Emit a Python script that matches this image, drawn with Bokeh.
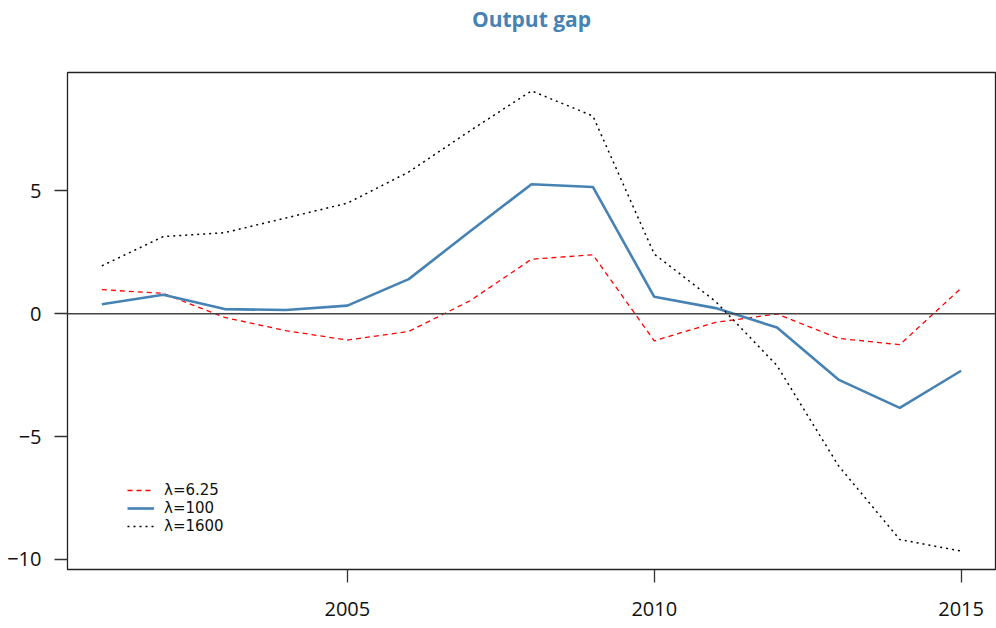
from bokeh.plotting import figure
from bokeh.models import FixedTicker, Span, Legend, LegendItem, Range1d, Title
from bokeh.embed import file_html
from bokeh.resources import INLINE

years = list(range(2001, 2016))
gap_625 = [0.98, 0.83, -0.15, -0.69, -1.07, -0.72, 0.53, 2.22, 2.40, -1.10, -0.35, -0.01, -1.00, -1.26, 1.04]
gap_100 = [0.39, 0.77, 0.19, 0.15, 0.33, 1.41, 3.36, 5.27, 5.16, 0.69, 0.23, -0.56, -2.68, -3.83, -2.32]
gap_1600 = [1.95, 3.14, 3.30, 3.90, 4.50, 5.77, 7.45, 9.07, 8.05, 2.43, 0.50, -2.11, -6.18, -9.19, -9.66]
x_ticks = [2005, 2010, 2015]
y_ticks = [-10, -5, 0, 5]
labels = ["\u03bb=6.25", "\u03bb=100", "\u03bb=1600"]
title_text = "Output gap"

# R-style 4% padding
xmin, xmax = min(years), max(years)
xpad = 0.04 * (xmax - xmin)
allv = gap_625 + gap_100 + gap_1600
ymin, ymax = min(allv), max(allv)
ypad = 0.04 * (ymax - ymin)

FONT = "Open Sans"
W, H = 996, 628
BL, BR, BT, BB = 67, 1, 72, 59

p = figure(width=W, height=H, output_backend="svg", toolbar_location=None,
           x_range=Range1d(xmin - xpad, xmax + xpad),
           y_range=Range1d(ymin - ypad, ymax + ypad),
           min_border_left=BL, min_border_right=BR, min_border_top=BT, min_border_bottom=BB)

# spacer title nearest the frame, then the real title above it
p.title.text = ""
p.add_layout(Title(text=" ", text_font_size="24px"), "above")
p.add_layout(Title(text=title_text, align="center", text_color="#4682B4", text_font=FONT,
                   text_font_style="bold", text_font_size="21px", standoff=2), "above")

p.xgrid.visible = False
p.ygrid.visible = False
p.outline_line_color = "#222222"
p.outline_line_width = 1.3
p.background_fill_color = "white"
p.border_fill_color = "white"

for ax in (p.xaxis[0], p.yaxis[0]):
    ax.axis_line_color = None
    ax.major_tick_in = 0
    ax.major_tick_out = 13
    ax.major_tick_line_color = "#333333"
    ax.major_tick_line_width = 1.3
    ax.minor_tick_line_color = None
    ax.major_label_text_font = FONT
    ax.major_label_text_font_size = "20px"
    ax.major_label_text_color = "#111111"
    ax.major_label_standoff = 13
p.xaxis.major_label_standoff = 19

p.xaxis.ticker = FixedTicker(ticks=x_ticks)
p.yaxis.ticker = FixedTicker(ticks=y_ticks)

zero = Span(location=0, dimension="width", line_color="#444444", line_width=1.5)
p.add_layout(zero)

r1 = p.line(years, gap_625, line_color="red", line_width=1.3, line_dash="5 4")
r2 = p.line(years, gap_100, line_color="#4682B4", line_width=2.6)
r3 = p.line(years, gap_1600, line_color="black", line_width=1.5, line_dash="2 4")

legend = Legend(items=[LegendItem(label=labels[0], renderers=[r1]),
                       LegendItem(label=labels[1], renderers=[r2]),
                       LegendItem(label=labels[2], renderers=[r3])],
                location=(60, 34))
legend.border_line_color = None
legend.background_fill_alpha = 0
legend.padding = 5
legend.spacing = 0
legend.glyph_width = 27
legend.glyph_height = 18
legend.label_height = 18
legend.label_standoff = 10
legend.label_text_font = "DejaVu Sans"
legend.label_text_font_size = "15px"
legend.label_text_color = "#111111"
p.add_layout(legend, "center")

open("out.html", "w").write(file_html(p, INLINE))
